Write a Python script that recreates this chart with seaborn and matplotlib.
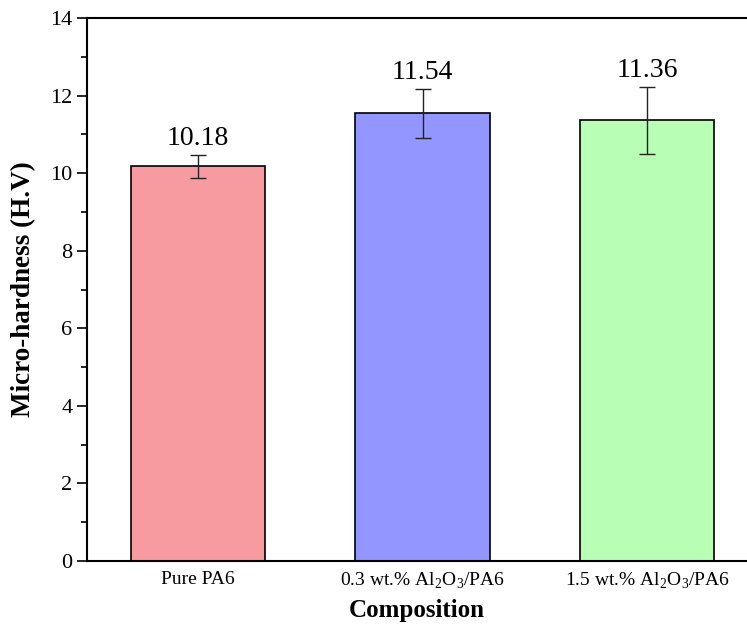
import matplotlib.pyplot as plt
import seaborn as sns
import pandas as pd

comps = ['Pure PA6', '0.3 wt.% Al$_2$O$_3$/PA6', '1.5 wt.% Al$_2$O$_3$/PA6']
hardness = [10.18, 11.54, 11.36]
err = [0.30, 0.64, 0.86]
colors = ['#F89BA0', '#9396FE', '#B9FEB5']

df = pd.DataFrame({'comp': comps, 'hv': hardness})

sns.set_style('ticks')
plt.rcParams['font.family'] = ['Liberation Serif', 'DejaVu Serif']
plt.rcParams['mathtext.fontset'] = 'custom'
plt.rcParams['mathtext.rm'] = 'Liberation Serif'
plt.rcParams['text.color'] = 'black'
plt.rcParams['axes.labelcolor'] = 'black'
plt.rcParams['xtick.color'] = 'black'
plt.rcParams['ytick.color'] = 'black'
plt.rcParams['axes.edgecolor'] = 'black'

fig = plt.figure(figsize=(7.47, 6.27), dpi=100)
ax = fig.add_axes([87 / 747, 1 - 561 / 627, 1 - 87 / 747, (561 - 18) / 627])

sns.barplot(data=df, x='comp', y='hv', hue='comp', palette=colors, width=0.6,
            saturation=1, edgecolor='black', linewidth=1.2, legend=False, ax=ax)
ax.errorbar(range(len(comps)), hardness, yerr=err, fmt='none', ecolor='#222222',
            elinewidth=1, capsize=6, capthick=1)

for i, (v, e) in enumerate(zip(hardness, err)):
    ax.text(i, v + e + 0.1, f'{v:.2f}', ha='center', va='bottom', fontsize=20)

ax.set_ylim(0, 14)
ax.set_xlim(-0.494, 2.445)
ax.set_yticks(range(0, 15, 2))
ax.set_yticks(range(1, 14, 2), minor=True)
ax.tick_params(axis='y', which='major', direction='out', length=7, width=1.2, labelsize=16)
ax.tick_params(axis='y', which='minor', direction='out', length=4, width=1.2)
ax.tick_params(axis='x', length=0, labelsize=14, pad=7)
for s in ['left', 'bottom', 'top']:
    ax.spines[s].set_linewidth(1.5)
ax.spines['right'].set_visible(False)

ax.set_xlabel('Composition', fontsize=18, fontweight='bold', labelpad=6)
ax.set_ylabel('Micro-hardness (H.V)', fontsize=19.5, fontweight='bold', labelpad=10)

fig.savefig('out.png', dpi=100)
